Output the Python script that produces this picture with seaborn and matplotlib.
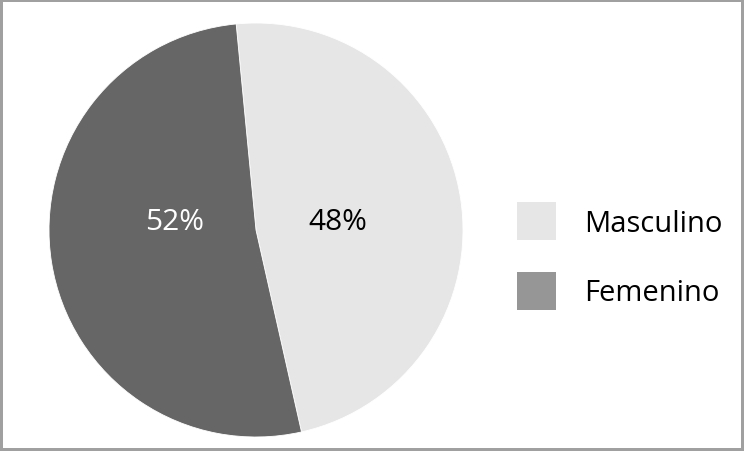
import matplotlib
matplotlib.use("Agg")
import matplotlib.pyplot as plt
import matplotlib.patches as mpatches
import seaborn as sns

# data
labels = ["Masculino", "Femenino"]
shares = [48, 52]
slice_colors = ["#e6e6e6", "#666666"]
legend_colors = ["#e6e6e6", "#969696"]
pct_colors = ["black", "white"]

sns.set_theme(style="white")
plt.rcParams["font.family"] = ["Open Sans", "DejaVu Sans"]
plt.rcParams["text.color"] = "black"

fig = plt.figure(figsize=(7.44, 4.52), dpi=100)
fig.patch.set_facecolor("white")
fig.patch.set_edgecolor("#a0a0a0")
fig.patch.set_linewidth(4)

ax = fig.add_axes([0, 0, 1, 1])

wedges, texts, autotexts = ax.pie(
    shares,
    colors=slice_colors,
    startangle=95.5,
    counterclock=False,
    autopct="%d%%",
    pctdistance=0.4,
    wedgeprops=dict(edgecolor="white", linewidth=0.6),
    textprops=dict(fontsize=21.5),
    frame=False,
)
# labels sit on one line in the original
mid_y = sum(t.get_position()[1] for t in autotexts) / len(autotexts)
for t, c in zip(autotexts, pct_colors):
    t.set_color(c)
    t.set_y(mid_y + 0.04)

# pie centred at (256, 231) px, radius 207 px
scale = 207.0
ax.set_xlim(-256 / scale, (744 - 256) / scale)
ax.set_ylim(-(452 - 231) / scale, 231 / scale)
ax.set_aspect("equal")
ax.axis("off")

handles = [mpatches.Patch(facecolor=c, edgecolor="none") for c in legend_colors]
fig.legend(
    handles, labels,
    loc="center left",
    bbox_to_anchor=(517 / 744, 1 - 257 / 452),
    frameon=False,
    fontsize=21,
    handlelength=1.35,
    handleheight=1.6,
    handletextpad=0.95,
    labelspacing=1.1,
    borderpad=0,
    borderaxespad=0,
)

fig.savefig("out.png", dpi=100, facecolor=fig.get_facecolor(), edgecolor=fig.get_edgecolor())
